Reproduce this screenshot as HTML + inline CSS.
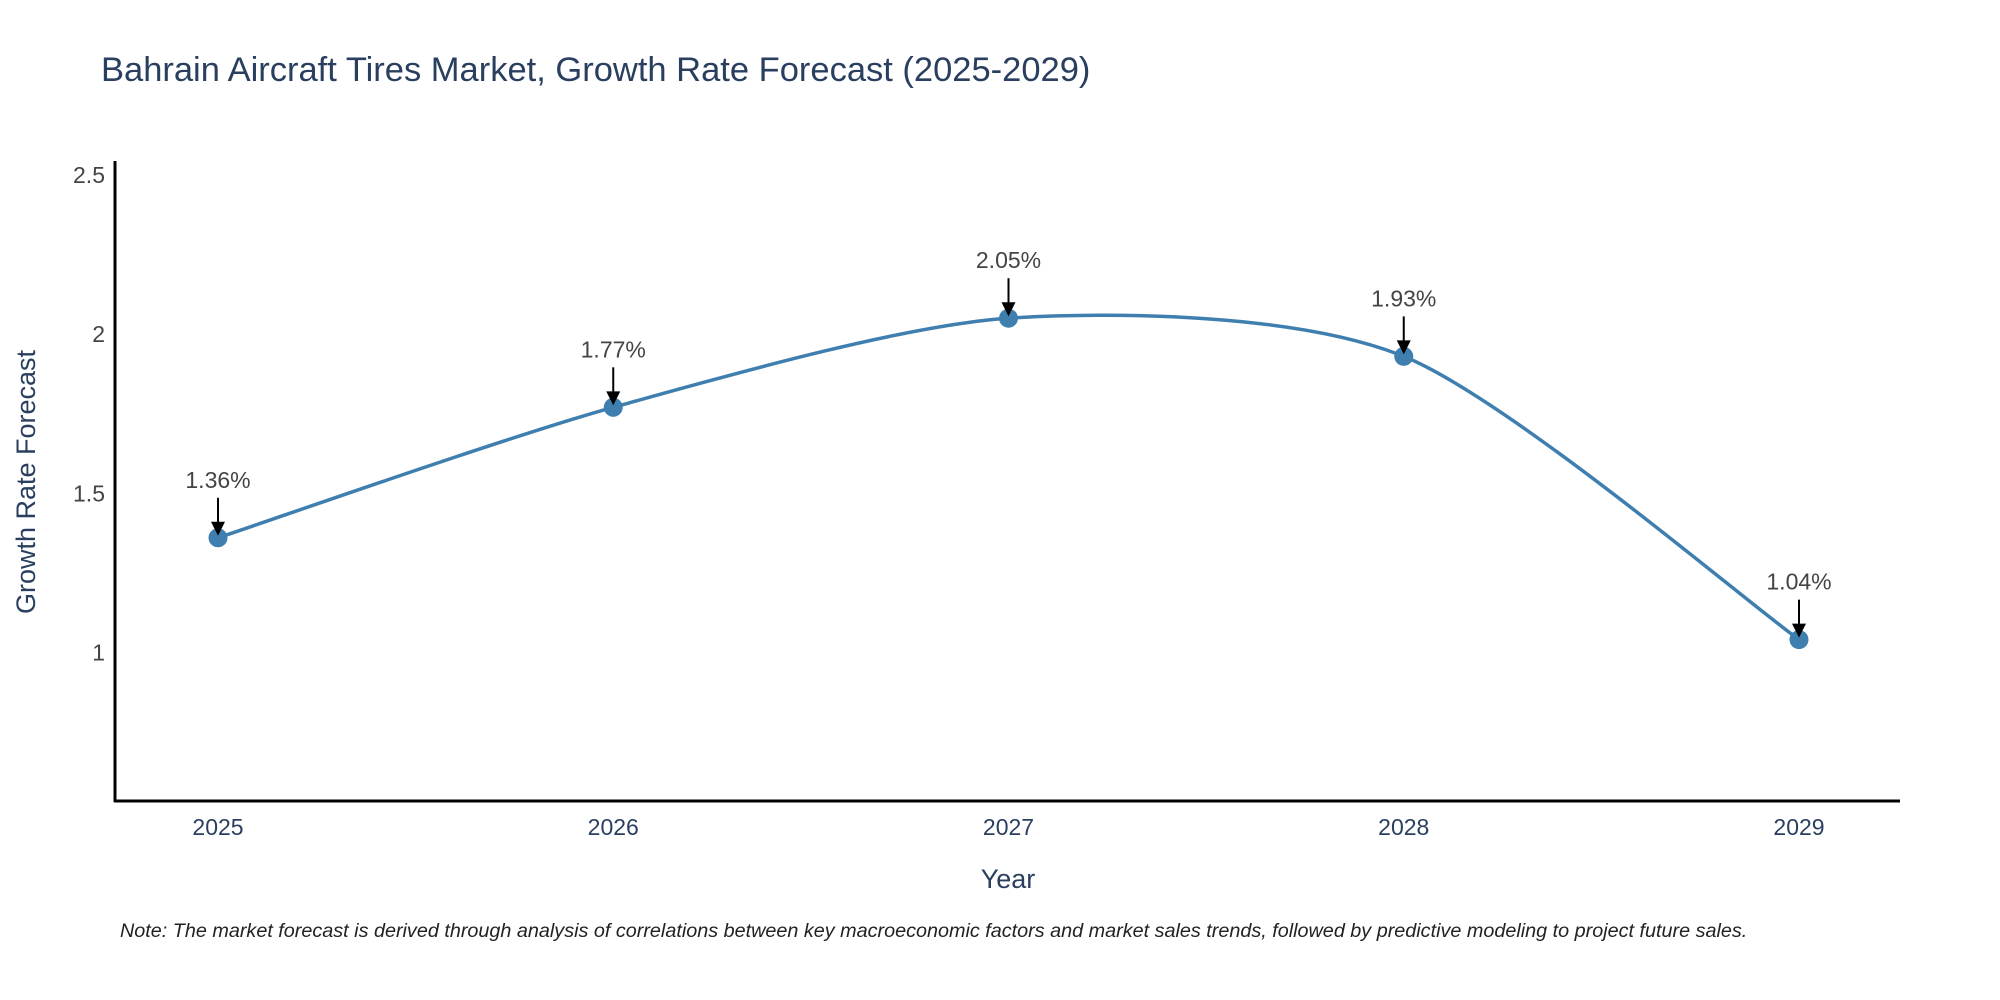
<!DOCTYPE html>
<html><head><meta charset="utf-8"><style>
body{margin:0;background:#fff;}
svg{display:block;font-family:"Liberation Sans",sans-serif;}
</style></head><body>
<svg id="chart" width="2000" height="1000">
<text x="101" y="81" font-size="34.5" fill="#2a3f5f">Bahrain Aircraft Tires Market, Growth Rate Forecast (2025-2029)</text>
<g id="plot"></g>
<text x="1008" y="888" font-size="27" fill="#2a3f5f" text-anchor="middle">Year</text>
<text transform="translate(35,482) rotate(-90)" font-size="27" fill="#2a3f5f" text-anchor="middle">Growth Rate Forecast</text>
<text x="120" y="937" font-size="19.8" font-style="italic" fill="#222">Note: The market forecast is derived through analysis of correlations between key macroeconomic factors and market sales trends, followed by predictive modeling to project future sales.</text>
</svg>
<script>
const years=["2025","2026","2027","2028","2029"];
const values=[1.36,1.77,2.05,1.93,1.04];
const labels=["1.36%","1.77%","2.05%","1.93%","1.04%"];
const yTicks=[1,1.5,2,2.5];
const yTickLabels=["1","1.5","2","2.5"];
const NS="http://www.w3.org/2000/svg";
const g=document.getElementById('plot');
const X0=115,X1=1900,Y0=161,Y1=801;
const yMin=0.533,yMax=2.544;
function xs(i){return 218+i*(1799-218)/(years.length-1);}
function ys(v){return Y1-(v-yMin)/(yMax-yMin)*(Y1-Y0);}
function mk(t,a,parent){const e=document.createElementNS(NS,t);for(const k in a)e.setAttribute(k,a[k]);(parent||g).appendChild(e);return e;}
let ax=mk('line',{x1:X0,y1:Y0,x2:X0,y2:Y1+1,stroke:'#000','stroke-width':3});


ax=mk('line',{x1:X0-1,y1:Y1,x2:X1,y2:Y1,stroke:'#000','stroke-width':3});


yTicks.forEach((v,i)=>{
 const t=mk('text',{x:X0-10,y:ys(v)+8,'font-size':23,fill:'#444','text-anchor':'end'});
 t.textContent=yTickLabels[i];
 
 
});
years.forEach((y,i)=>{
 const t=mk('text',{x:xs(i),y:835,'font-size':23,fill:'#2a3f5f','text-anchor':'middle'});
 t.textContent=y;
 
 
});
const P=values.map((v,i)=>[xs(i),ys(v)]);
let d='M'+P[0][0]+','+P[0][1];
const k=7.5;
for(let i=0;i<P.length-1;i++){
 const p0=P[Math.max(i-1,0)],p1=P[i],p2=P[i+1],p3=P[Math.min(i+2,P.length-1)];
 const c1=[p1[0]+(p2[0]-p0[0])/k,p1[1]+(p2[1]-p0[1])/k];
 const c2=[p2[0]-(p3[0]-p1[0])/k,p2[1]-(p3[1]-p1[1])/k];
 d+=' C'+c1+' '+c2+' '+p2;
}
const line=mk('path',{d:d,fill:'none',stroke:'#3f7fb0','stroke-width':3.5});


P.forEach((p,i)=>{
 const c=mk('circle',{cx:p[0],cy:p[1],r:9.5,fill:'#3f7fb0'});
 
 
 const a=mk('line',{x1:p[0],y1:p[1]-40,x2:p[0],y2:p[1]-14,stroke:'#000','stroke-width':2});
 
 
 const h=mk('polygon',{points:(p[0]-7)+','+(p[1]-16)+' '+(p[0]+7)+','+(p[1]-16)+' '+p[0]+','+(p[1]-2),fill:'#000'});
 
 
 const t=mk('text',{x:p[0],y:p[1]-50,'font-size':23,fill:'#444','text-anchor':'middle'});
 t.textContent=labels[i];
 
 
});
</script>
</body></html>
